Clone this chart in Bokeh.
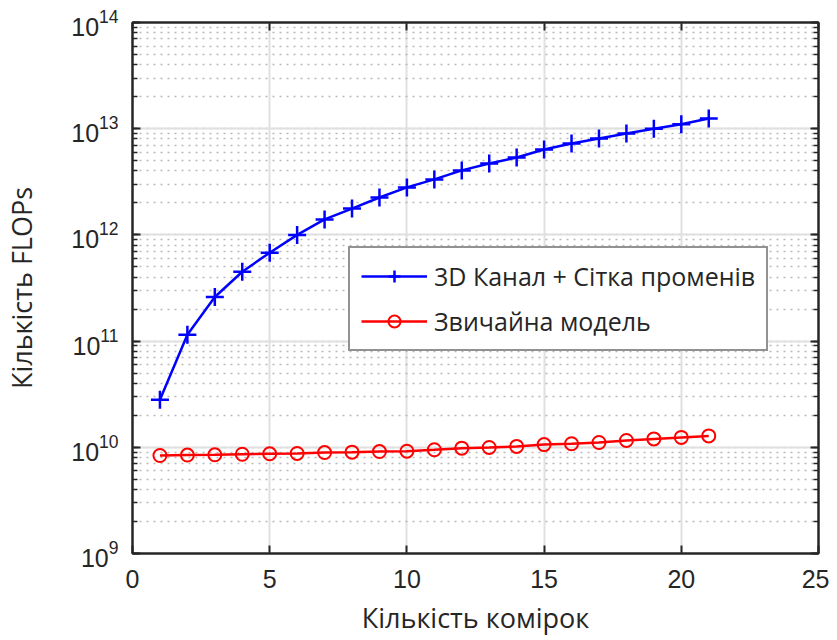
from bokeh.plotting import figure
from bokeh.models import (Range1d, LinearAxis, LogAxis, SingleIntervalTicker, LogTicker,
                          Legend, LegendItem)
from bokeh.embed import file_html
from bokeh.resources import INLINE

cells = list(range(1, 22))
flops_3d = [2.8e10, 1.15e11, 2.6e11, 4.5e11, 6.8e11, 1.0e12, 1.4e12, 1.77e12, 2.25e12, 2.8e12,
            3.33e12, 4.05e12, 4.7e12, 5.36e12, 6.37e12, 7.26e12, 8.1e12, 9.0e12, 1.0e13, 1.1e13, 1.25e13]
flops_std = [8.37e9, 8.45e9, 8.5e9, 8.6e9, 8.69e9, 8.75e9, 8.93e9, 9.0e9, 9.12e9, 9.19e9,
             9.48e9, 9.82e9, 9.96e9, 1.02e10, 1.06e10, 1.08e10, 1.11e10, 1.16e10, 1.2e10, 1.24e10, 1.28e10]
label_3d = "3D Канал + Сітка променів"
label_std = "Звичайна модель"
x_label = "Кількість комірок"
y_label = "Кількість FLOPs"

AX = "#262626"
TICK_FONT = "Liberation Sans"
LBL_FONT = "Open Sans"

p = figure(frame_width=686, frame_height=531, x_range=Range1d(0, 25), y_range=Range1d(1e9, 1e14),
           y_axis_type="log", output_backend="svg", toolbar_location=None,
           min_border_left=132, min_border_top=22, min_border_right=11, min_border_bottom=10)
p.background_fill_color = "white"
p.border_fill_color = "white"
p.outline_line_color = AX
p.outline_line_width = 2

xt = SingleIntervalTicker(interval=5, num_minor_ticks=0)
p.xaxis.ticker = xt
p.xgrid.ticker = xt
yt = LogTicker(num_minor_ticks=10)
p.yaxis.ticker = yt
p.ygrid.ticker = yt

p.xgrid.grid_line_color = "#e0e0e0"
p.xgrid.grid_line_width = 2
p.ygrid.grid_line_color = "#e0e0e0"
p.ygrid.grid_line_width = 2
p.ygrid.minor_grid_line_color = "#b8b8b8"
p.ygrid.minor_grid_line_dash = "2 5"
p.ygrid.minor_grid_line_width = 1.5

def style_axis(ax, labels=True):
    ax.axis_line_color = AX
    ax.axis_line_width = 2
    ax.major_tick_line_color = AX
    ax.minor_tick_line_color = AX
    ax.major_tick_in = 8
    ax.major_tick_out = 0
    ax.minor_tick_in = 5
    ax.minor_tick_out = 0
    ax.major_tick_line_width = 2
    ax.minor_tick_line_width = 1.5
    ax.major_label_text_font = TICK_FONT
    ax.major_label_text_font_size = "25px"
    ax.major_label_text_color = AX if labels else None
    ax.axis_label_text_font = LBL_FONT
    ax.axis_label_text_font_size = "27px"
    ax.axis_label_text_font_style = "normal"
    ax.axis_label_text_color = AX

style_axis(p.xaxis[0])
style_axis(p.yaxis[0])
p.xaxis.axis_label = x_label
p.yaxis.axis_label = y_label
p.xaxis.major_label_standoff = 16
p.yaxis.major_label_standoff = 14
p.xaxis.axis_label_standoff = 8
p.yaxis.axis_label_standoff = 28

top = LinearAxis(ticker=xt)
style_axis(top, labels=False)
top.major_label_text_font_size = "0px"
p.add_layout(top, "above")
right = LogAxis(ticker=yt)
style_axis(right, labels=False)
right.major_label_text_font_size = "0px"
p.add_layout(right, "right")

r1 = p.line(cells, flops_3d, line_color="#0000ff", line_width=2.5)
m1 = p.scatter(cells, flops_3d, marker="cross", size=18, line_color="#0000ff", line_width=2.5)
r2 = p.line(cells, flops_std, line_color="#ff0000", line_width=2.5)
m2 = p.scatter(cells, flops_std, marker="circle", size=13, line_color="#ff0000", line_width=2,
               fill_color=None)

legend = Legend(items=[LegendItem(label=label_3d, renderers=[r1, m1]),
                       LegendItem(label=label_std, renderers=[r2, m2])],
                location=(216, 202))
legend.label_text_font = LBL_FONT
legend.label_text_font_size = "25px"
legend.label_text_color = AX
legend.border_line_color = AX
legend.border_line_width = 2
legend.background_fill_color = "white"
legend.background_fill_alpha = 1
legend.padding = 11
legend.spacing = 11
legend.glyph_width = 66
legend.glyph_height = 30
legend.label_height = 30
legend.label_standoff = 7
legend.margin = 0
p.add_layout(legend, "center")

open("out.html", "w").write(file_html(p, INLINE))
